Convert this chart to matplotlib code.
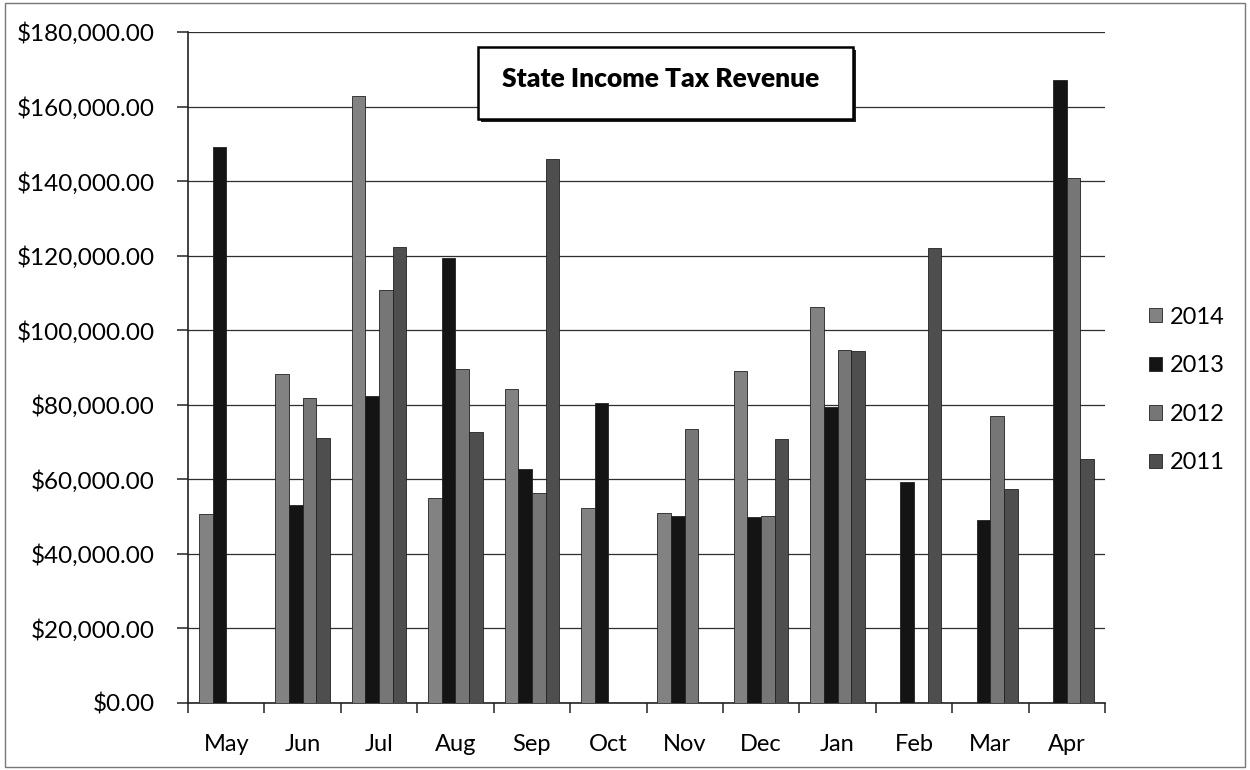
import numpy as np
import matplotlib
matplotlib.use("Agg")
import matplotlib.pyplot as plt
from matplotlib.patches import Rectangle
from matplotlib.ticker import FuncFormatter

plt.rcParams['font.family'] = ['Lato', 'DejaVu Sans']

months = ["May", "Jun", "Jul", "Aug", "Sep", "Oct", "Nov", "Dec", "Jan", "Feb", "Mar", "Apr"]
series_names = ["2014", "2013", "2012", "2011"]
nan = np.nan
v2014 = [50700, 88200, 162700, 55100, 84100, 52300, 51000, 89100, 106100, nan, nan, nan]
v2013 = [149200, 53100, 82400, 119400, 62700, 80500, 50200, 49900, 79400, 59400, 49100, 167000]
v2012 = [nan, 81800, 110900, 89500, 56400, nan, 73400, 50200, 94800, nan, 77000, 140800]
v2011 = [nan, 71000, 122200, 72600, 146000, nan, nan, 70900, 94500, 122000, 57500, 65500]
yticks = [0, 20000, 40000, 60000, 80000, 100000, 120000, 140000, 160000, 180000]
title = "State Income Tax Revenue"

colors = ['#828282', '#141414', '#767676', '#4e4e4e']
W, H = 1250, 770
fig = plt.figure(figsize=(W / 100, H / 100), dpi=100)
ax = fig.add_axes([188 / W, 1 - 703 / H, (1105 - 188) / W, (703 - 32) / H])

x = np.arange(len(months))
bw = 0.179
for k, (name, vals) in enumerate(zip(series_names, [v2014, v2013, v2012, v2011])):
    vals = np.array(vals, dtype=float)
    m = ~np.isnan(vals)
    ax.bar(x[m] + (k - 1.5) * bw, vals[m], width=bw, color=colors[k],
           edgecolor='#222222', linewidth=0.6, label=name, zorder=3)

ax.set_xlim(-0.5, len(months) - 0.5)
ax.set_ylim(0, 180000)
ax.set_yticks(yticks)
ax.yaxis.set_major_formatter(FuncFormatter(lambda v, p: "${:,.2f}".format(v)))
ax.grid(axis='y', color='#2e2e2e', linewidth=0.9, zorder=0)
ax.set_axisbelow(True)

ax.set_xticks(x)
ax.set_xticklabels(months)
ax.set_xticks(np.arange(-0.5, len(months)), minor=True)
ax.tick_params(axis='x', which='major', length=0, pad=22, labelsize=17)
ax.tick_params(axis='x', which='minor', length=7, width=1.1, direction='out', color='#222')
ax.tick_params(axis='y', length=8, width=1.1, pad=16, labelsize=17.5, color='#222')

for s in ['top', 'right']:
    ax.spines[s].set_visible(False)
for s in ['left', 'bottom']:
    ax.spines[s].set_color('#222')
    ax.spines[s].set_linewidth(1.2)

# title box with shadow
fig.patches.append(Rectangle((481 / W, 1 - 122 / H), 375 / W, 72 / H, transform=fig.transFigure,
                             facecolor='#222', edgecolor='none', zorder=4))
fig.patches.append(Rectangle((478 / W, 1 - 119 / H), 375 / W, 72 / H, transform=fig.transFigure,
                             facecolor='white', edgecolor='black', linewidth=1.8, zorder=5))
fig.text(661 / W, 1 - 79 / H, title, ha='center', va='center', fontsize=19,
         fontweight='heavy', zorder=6)

handles, labels = ax.get_legend_handles_labels()
leg = fig.legend(handles, labels, loc='center left', bbox_to_anchor=(1140 / W, 1 - 390 / H),
                 frameon=False, fontsize=17, handlelength=0.55, handleheight=0.55,
                 handletextpad=0.3, labelspacing=1.17, borderaxespad=0)

# outer border
fig.patches.append(Rectangle((5 / W, 3 / H), (W - 10) / W, (H - 6) / H, transform=fig.transFigure,
                             facecolor='none', edgecolor='#777', linewidth=1.0))

fig.savefig("out.png", dpi=100)
